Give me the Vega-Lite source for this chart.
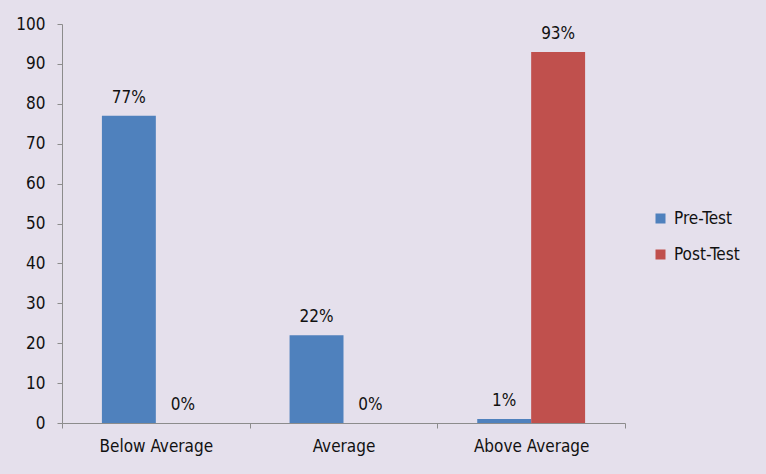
{
  "$schema": "https://vega.github.io/schema/vega-lite/v6.json",
  "width": 563,
  "height": 399,
  "autosize": {"type": "none"},
  "padding": {"left": 62, "top": 24, "right": 141, "bottom": 51},
  "background": "#E5E0EC",
  "config": {
    "view": {"stroke": null},
    "font": "DejaVu Sans Condensed, DejaVu Sans",
    "axis": {
      "domainColor": "#8C8C8C",
      "tickColor": "#8C8C8C",
      "labelColor": "#111111",
      "labelFont": "DejaVu Sans Condensed, DejaVu Sans",
      "labelFontSize": 17,
      "grid": false,
      "title": null
    },
    "legend": {"labelFont": "DejaVu Sans Condensed, DejaVu Sans"}
  },
  "data": {
    "values": [
      {"level": "Below Average", "test": "Pre-Test", "pct": 77},
      {"level": "Below Average", "test": "Post-Test", "pct": 0},
      {"level": "Average", "test": "Pre-Test", "pct": 22},
      {"level": "Average", "test": "Post-Test", "pct": 0},
      {"level": "Above Average", "test": "Pre-Test", "pct": 1},
      {"level": "Above Average", "test": "Post-Test", "pct": 93}
    ]
  },
  "encoding": {
    "x": {
      "field": "level",
      "type": "nominal",
      "sort": ["Below Average", "Average", "Above Average"],
      "scale": {"paddingInner": 0, "paddingOuter": 0},
      "axis": {"labelAngle": 0, "tickBand": "extent", "tickSize": 5, "labelPadding": 10}
    },
    "xOffset": {
      "field": "test",
      "type": "nominal",
      "sort": ["Pre-Test", "Post-Test"],
      "scale": {"paddingInner": 0, "paddingOuter": 0.74}
    },
    "y": {
      "field": "pct",
      "type": "quantitative",
      "scale": {"domain": [0, 100]},
      "axis": {"values": [0, 10, 20, 30, 40, 50, 60, 70, 80, 90, 100], "tickSize": 5, "labelPadding": 12}
    }
  },
  "layer": [
    {
      "mark": {"type": "bar"},
      "encoding": {
        "color": {
          "field": "test",
          "type": "nominal",
          "sort": ["Pre-Test", "Post-Test"],
          "scale": {"range": ["#4F81BD", "#C0504D"]},
          "legend": {
            "title": null,
            "orient": "none",
            "legendX": 590,
            "legendY": 186,
            "symbolType": "square",
            "symbolSize": 100,
            "symbolStrokeWidth": 0,
            "labelFontSize": 17,
            "labelColor": "#111111",
            "labelOffset": 5,
            "rowPadding": 18
          }
        }
      }
    },
    {
      "transform": [{"calculate": "datum.pct + '%'", "as": "label"}],
      "mark": {"type": "text", "baseline": "bottom", "dy": -9, "fontSize": 17, "color": "#111111"},
      "encoding": {"text": {"field": "label", "type": "nominal"}}
    }
  ]
}
